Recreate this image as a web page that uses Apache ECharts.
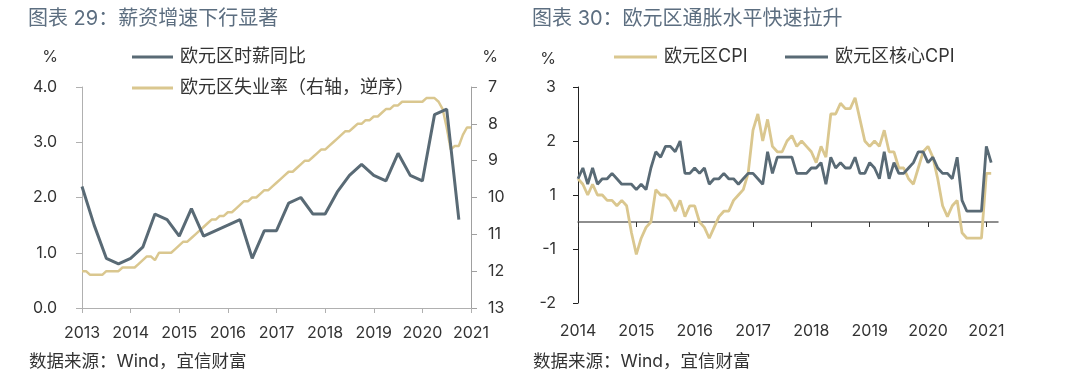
<!DOCTYPE html>
<html><head><meta charset="utf-8">
<script src="https://cdn.jsdelivr.net/npm/echarts@6/dist/echarts.min.js"></script>
<style>html,body{margin:0;padding:0;background:#fff}#c{width:1080px;height:374px}</style>
</head><body><div id="c"></div>
<script>
// ---------- Data ----------
// Left chart: Euro area hourly wage YoY (quarterly, from 2013Q1), %
const wageStart = [2013, 1]; // year, quarter
const wageYoY = [2.2,1.5,0.9,0.8,0.9,1.1,1.7,1.6,1.3,1.8,1.3,1.4,1.5,1.6,0.9,1.4,1.4,1.9,2.0,1.7,1.7,2.1,2.4,2.6,2.4,2.3,2.8,2.4,2.3,3.5,3.6,1.6];
// Left chart: Euro area unemployment rate (monthly, from 2013-01), % (right axis, inverted)
const unempStart = [2013, 1]; // year, month
const unempRate = [
  12.0,12.0,12.1,12.1,12.1,12.1,12.0,12.0,12.0,12.0,11.9,11.9,
  11.9,11.9,11.8,11.7,11.6,11.6,11.7,11.5,11.5,11.5,11.5,11.4,
  11.3,11.2,11.2,11.1,11.0,10.9,10.8,10.7,10.6,10.6,10.5,10.5,
  10.4,10.4,10.3,10.2,10.1,10.1,10.0,10.0,9.9,9.8,9.8,9.7,
  9.6,9.5,9.4,9.3,9.3,9.2,9.1,9.0,9.0,8.9,8.8,8.7,
  8.7,8.6,8.5,8.4,8.3,8.2,8.2,8.1,8.0,8.0,7.9,7.9,
  7.8,7.8,7.7,7.6,7.6,7.5,7.5,7.4,7.4,7.4,7.4,7.4,
  7.4,7.3,7.3,7.3,7.4,7.6,8.1,8.7,8.6,8.6,8.3,8.1,
  8.1
];
// Right chart: Euro area CPI and core CPI YoY (monthly, from 2014-01), %
const cpiStart = [2014, 1];
const cpiYoY = [
  0.8,0.7,0.5,0.7,0.5,0.5,0.4,0.4,0.3,0.4,0.3,-0.2,
  -0.6,-0.3,-0.1,0.0,0.6,0.5,0.5,0.4,0.2,0.4,0.1,0.3,
  0.3,0.0,-0.1,-0.3,-0.1,0.1,0.2,0.2,0.4,0.5,0.6,0.9,
  1.7,2.0,1.5,1.9,1.4,1.3,1.3,1.5,1.6,1.4,1.5,1.4,
  1.3,1.1,1.4,1.2,2.0,2.0,2.2,2.1,2.1,2.3,1.9,1.5,
  1.4,1.5,1.4,1.7,1.3,1.3,1.0,1.0,0.8,0.7,1.0,1.3,
  1.4,1.2,0.8,0.3,0.1,0.3,0.4,-0.2,-0.3,-0.3,-0.3,-0.3,
  0.9,0.9
];
const coreCpiYoY = [
  0.8,1.0,0.7,1.0,0.7,0.8,0.8,0.9,0.8,0.7,0.7,0.7,
  0.6,0.7,0.6,1.0,1.3,1.2,1.4,1.4,1.3,1.5,0.9,0.9,
  1.0,0.9,1.0,0.7,0.8,0.8,0.9,0.8,0.8,0.7,0.8,0.9,
  0.9,0.8,0.7,1.3,0.9,1.2,1.2,1.2,1.2,0.9,0.9,0.9,
  1.0,1.0,1.1,0.7,1.2,1.0,1.1,1.0,1.0,1.2,0.9,0.9,
  1.1,1.0,0.8,1.3,0.8,1.1,0.9,0.9,1.0,1.1,1.3,1.3,
  1.1,1.2,1.0,0.9,0.9,0.8,1.2,0.4,0.2,0.2,0.2,0.2,
  1.4,1.1
];
const leftYears = [2013,2014,2015,2016,2017,2018,2019,2020,2021];
const rightYears = [2014,2015,2016,2017,2018,2019,2020,2021];

// ---------- Helpers (position on the time axis, in years) ----------
const quarterSeries = (start, vals) => vals.map((v, i) => [start[0] + (start[1] - 1 + i) / 4, v]);
const monthSeries = (start, vals) => vals.map((v, i) => [start[0] + (start[1] - 1 + i) / 12, v]);

const FONT = "Inter, 'Noto Sans CJK SC', sans-serif";
const GRAY = '#596a75';
const GOLD = '#dac78f';
const TXT = '#333333';

const chart = echarts.init(document.getElementById('c'), null, {renderer: 'canvas'});

const legendBase = {
  icon: 'rect', itemWidth: 41, itemHeight: 3, padding: 0,
  textStyle: {fontSize: 18, color: TXT, fontFamily: FONT, lineHeight: 20, padding: [0, 0, 0, 2]}
};

const option = {
  animation: false,
  backgroundColor: '#ffffff',
  textStyle: {fontFamily: FONT},
  title: [
    {text: '图表 29：薪资增速下行显著', left: 28, top: 9, padding: 0,
     textStyle: {fontSize: 20, color: '#5c6e80', fontWeight: 'normal', fontFamily: FONT}},
    {text: '图表 30：欧元区通胀水平快速拉升', left: 532, top: 9, padding: 0,
     textStyle: {fontSize: 20, color: '#5c6e80', fontWeight: 'normal', fontFamily: FONT}}
  ],
  legend: [
    Object.assign({}, legendBase, {data: ['欧元区时薪同比'], left: 132, top: 47}),
    Object.assign({}, legendBase, {data: ['欧元区失业率（右轴，逆序）'], left: 132, top: 78}),
    Object.assign({}, legendBase, {data: ['欧元区CPI'], left: 614, top: 47, itemWidth: 43}),
    Object.assign({}, legendBase, {data: ['欧元区核心CPI'], left: 785, top: 47, itemWidth: 43})
  ],
  grid: [
    {left: 82, top: 87, width: 389, height: 221, outerBoundsMode: 'none', containLabel: false},
    {left: 578, top: 87, width: 420, height: 216, outerBoundsMode: 'none', containLabel: false}
  ],
  xAxis: [
    {gridIndex: 0, type: 'value', min: 2013, max: 2021, interval: 1,
     axisLine: {show: true, onZero: false, lineStyle: {color: '#b0b0b0', width: 1}},
     axisTick: {show: true, length: 5, lineStyle: {color: '#b0b0b0'}},
     axisLabel: {fontSize: 16, color: TXT, margin: 17, formatter: v => String(Math.round(v))},
     splitLine: {show: false}},
    {gridIndex: 1, type: 'value', min: 2014, max: 2021.2, position: 'bottom',
     axisLine: {show: true, onZero: true, lineStyle: {color: '#6a6a6a', width: 1.5}},
     axisTick: {show: true, length: 5, customValues: rightYears, lineStyle: {color: '#333', width: 1}},
     axisLabel: {show: false},
     splitLine: {show: false}},
    {gridIndex: 1, type: 'value', min: 2014, max: 2021.2, position: 'bottom',
     axisLine: {show: false, onZero: false},
     axisTick: {show: false},
     axisLabel: {fontSize: 16, color: TXT, margin: 20, customValues: rightYears,
                 formatter: v => String(Math.round(v))},
     splitLine: {show: false}}
  ],
  yAxis: [
    {gridIndex: 0, type: 'value', min: 0, max: 4, interval: 1, position: 'left',
     axisLine: {show: true, lineStyle: {color: '#b0b0b0'}},
     axisTick: {show: true, length: 6, lineStyle: {color: '#b0b0b0'}},
     axisLabel: {fontSize: 16, color: TXT, margin: 25, formatter: v => v.toFixed(1)},
     splitLine: {show: false}},
    {gridIndex: 0, type: 'value', min: 7, max: 13, interval: 1, position: 'right', inverse: true,
     axisLine: {show: true, lineStyle: {color: '#a0a0a0'}},
     axisTick: {show: true, length: 6, lineStyle: {color: '#a0a0a0'}},
     axisLabel: {fontSize: 16, color: TXT, margin: 17, formatter: v => String(v)},
     splitLine: {show: false}},
    {gridIndex: 1, type: 'value', min: -1.5, max: 2.5, interval: 1, position: 'left',
     axisLine: {show: true, onZero: false, lineStyle: {color: '#222', width: 1}},
     axisTick: {show: true, length: 5, lineStyle: {color: '#222'}},
     axisLabel: {fontSize: 16, color: TXT, margin: 22,
                 formatter: v => String(v < 0 ? -Math.round(-v) : Math.round(v))},
     splitLine: {show: false}}
  ],
  series: [
    {name: '欧元区失业率（右轴，逆序）', type: 'line', xAxisIndex: 0, yAxisIndex: 1,
     data: monthSeries(unempStart, unempRate), showSymbol: false, symbol: 'none',
     lineStyle: {color: GOLD, width: 2.5}, itemStyle: {color: GOLD}},
    {name: '欧元区时薪同比', type: 'line', xAxisIndex: 0, yAxisIndex: 0,
     data: quarterSeries(wageStart, wageYoY), showSymbol: false, symbol: 'none',
     lineStyle: {color: GRAY, width: 3}, itemStyle: {color: GRAY}},
    {name: '欧元区CPI', type: 'line', xAxisIndex: 1, yAxisIndex: 2,
     data: monthSeries(cpiStart, cpiYoY), showSymbol: false, symbol: 'none',
     lineStyle: {color: GOLD, width: 2.8}, itemStyle: {color: GOLD}},
    {name: '欧元区核心CPI', type: 'line', xAxisIndex: 1, yAxisIndex: 2,
     data: monthSeries(cpiStart, coreCpiYoY), showSymbol: false, symbol: 'none',
     lineStyle: {color: GRAY, width: 2.8}, itemStyle: {color: GRAY}}
  ],
  graphic: [
    {type: 'text', x: 50, y: 57, style: {text: '%', fontSize: 16, fontFamily: FONT, fill: TXT, align: 'center', verticalAlign: 'middle'}},
    {type: 'text', x: 490, y: 57, style: {text: '%', fontSize: 16, fontFamily: FONT, fill: TXT, align: 'center', verticalAlign: 'middle'}},
    {type: 'text', x: 548, y: 59, style: {text: '%', fontSize: 16, fontFamily: FONT, fill: TXT, align: 'center', verticalAlign: 'middle'}},
    {type: 'text', x: 29, y: 362, style: {text: '数据来源：Wind，宜信财富', fontSize: 17.5, fontFamily: FONT, fill: TXT, align: 'left', verticalAlign: 'middle'}},
    {type: 'text', x: 533, y: 362, style: {text: '数据来源：Wind，宜信财富', fontSize: 17.5, fontFamily: FONT, fill: TXT, align: 'left', verticalAlign: 'middle'}}
  ]
};
chart.setOption(option);
</script>
</body></html>
